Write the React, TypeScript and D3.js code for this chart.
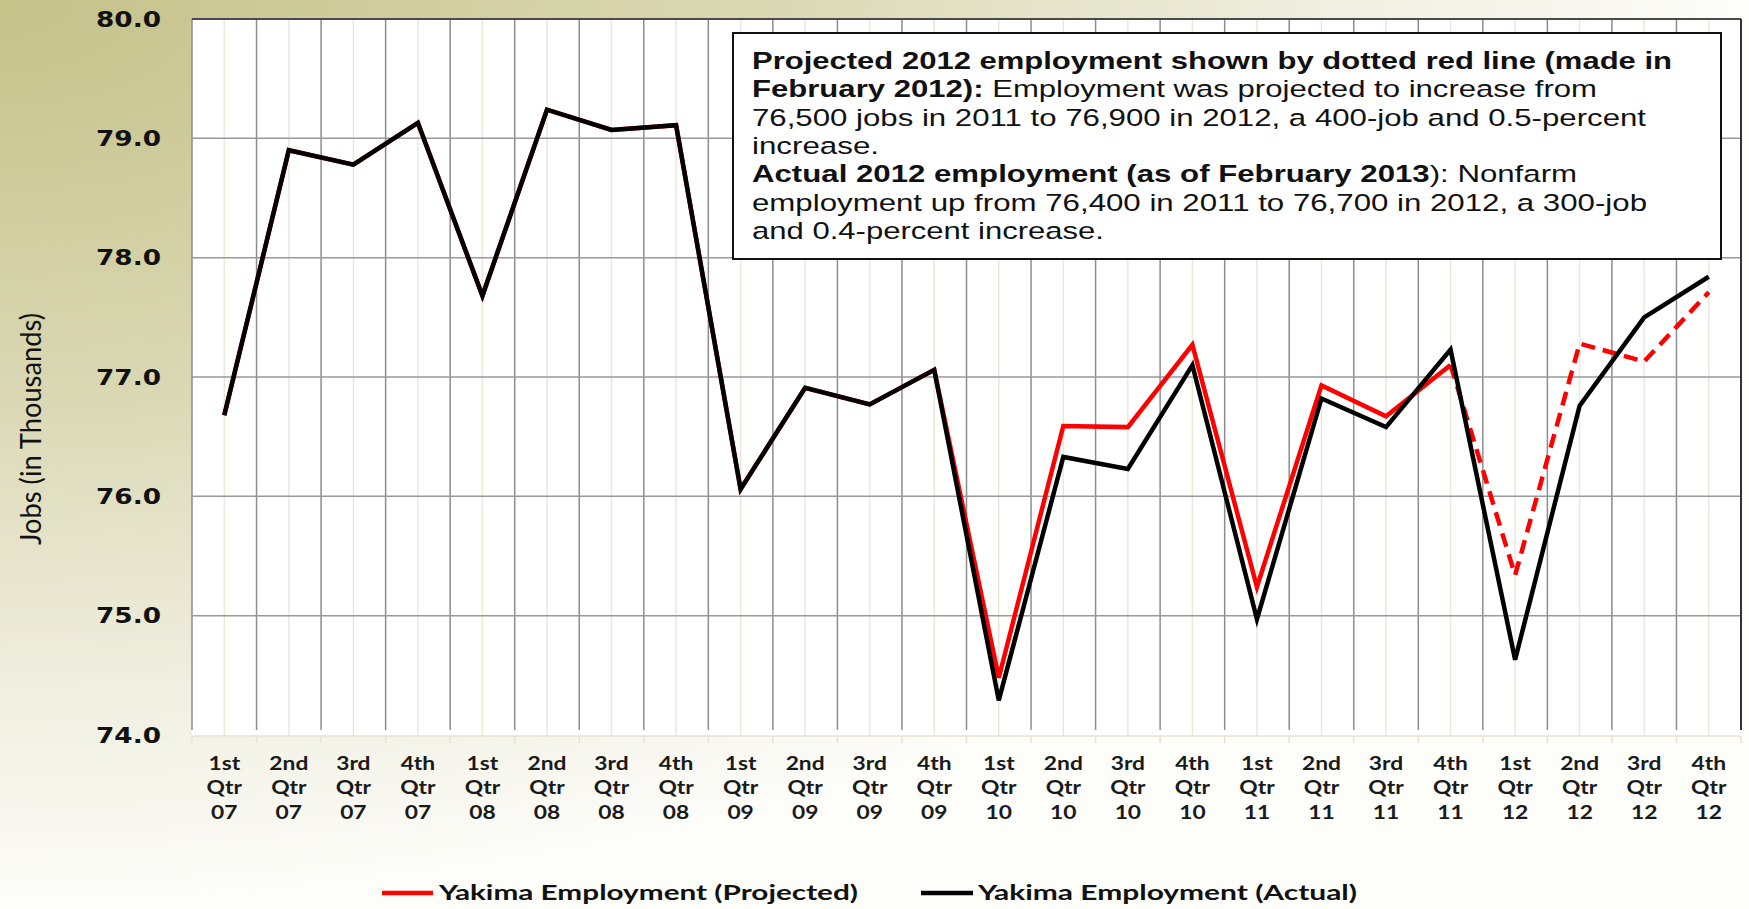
import * as d3 from "d3"
import React from "react"

// quarter / year labels along the bottom
const quarterNames = ["1st", "2nd", "3rd", "4th"]
const years = ["07", "08", "09", "10", "11", "12"]

// Yakima nonfarm employment, thousands of jobs
const actual = [
  76.68, 78.90, 78.78, 79.13,
  77.68, 79.24, 79.07, 79.11,
  76.06, 76.91, 76.77, 77.06,
  74.29, 76.33, 76.23, 77.10,
  74.97, 76.82, 76.58, 77.23,
  74.63, 76.76, 77.50, 77.84,
]
const projected = [
  76.68, 78.90, 78.78, 79.13,
  77.68, 79.24, 79.07, 79.11,
  76.06, 76.91, 76.77, 77.06,
  74.48, 76.59, 76.58, 77.27,
  75.24, 76.93, 76.67, 77.10,
  75.34, 77.28, 77.13, 77.71,
]
const yTicks = [74, 75, 76, 77, 78, 79, 80]
const legendLabels = ["Yakima Employment (Projected)", "Yakima Employment (Actual)"]
const yLabel = "Jobs (in Thousands)"

// note box text: [text, bold] runs per line
const noteLines: [string, boolean][][] = [
  [["Projected 2012 employment shown by dotted red line (made in", true]],
  [["February 2012):", true], [" Employment was projected to increase from", false]],
  [["76,500 jobs in 2011 to 76,900 in 2012, a 400-job and 0.5-percent", false]],
  [["increase.", false]],
  [["Actual 2012 employment (as of February 2013", true], ["): Nonfarm", false]],
  [["employment up from 76,400 in 2011 to 76,700 in 2012, a 300-job", false]],
  [["and 0.4-percent increase.", false]],
]
const noteWidths = [920, 845, 894, 127, 825, 895, 352]

const width = 1749
const height = 909
const left = 192
const right = 1741
const top = 19
const bottom = 735

const createChart = (el: SVGSVGElement) => {
  const svg = d3.select(el)
  svg.selectAll("*").remove()

  const labels = years.flatMap(yy => quarterNames.map(q => `${q} Qtr ${yy}`))
  const idx = d3.range(labels.length)

  const x = d3.scaleBand<number>(idx, [left, right])
  const cx = (i: number) => (x(i) as number) + x.bandwidth() / 2
  const y = d3.scaleLinear([74, 80], [bottom, top])

  // background
  const defs = svg.append("defs")
  const grad = defs.append("radialGradient").attr("id", "bg")
    .attr("cx", 0).attr("cy", 0).attr("r", 1).attr("fx", 0).attr("fy", 0)
  grad.append("stop").attr("offset", 0).attr("stop-color", "#c5c189")
  grad.append("stop").attr("offset", 0.45).attr("stop-color", "#dbd9b5")
  grad.append("stop").attr("offset", 0.75).attr("stop-color", "#efeedf")
  grad.append("stop").attr("offset", 1).attr("stop-color", "#fdfdfa")
  svg.append("rect").attr("width", width).attr("height", height).attr("fill", "url(#bg)")

  // plot area
  svg.append("rect").attr("x", left).attr("y", top)
    .attr("width", right - left).attr("height", bottom - top + 1).attr("fill", "#fff")

  // light grid through the points
  svg.append("g").selectAll("line").data(idx).join("line")
    .attr("x1", cx).attr("x2", cx).attr("y1", top).attr("y2", bottom + 1)
    .attr("stroke", "#ebe8da").attr("stroke-width", 1.5)

  // bottom base line and ticks
  svg.append("line").attr("x1", left).attr("x2", right).attr("y1", bottom + 1).attr("y2", bottom + 1)
    .attr("stroke", "#e6e3d3").attr("stroke-width", 1.5)
  svg.append("g").selectAll("line").data(d3.range(labels.length + 1)).join("line")
    .attr("x1", i => left + i * x.step()).attr("x2", i => left + i * x.step())
    .attr("y1", bottom + 1).attr("y2", bottom + 8)
    .attr("stroke", "#e6e3d3").attr("stroke-width", 1.5)

  // dark grid between quarters
  svg.append("g").selectAll("line").data(d3.range(labels.length)).join("line")
    .attr("x1", i => left + i * x.step()).attr("x2", i => left + i * x.step())
    .attr("y1", top).attr("y2", bottom - 5)
    .attr("stroke", "#8d8d8d").attr("stroke-width", 1.5)

  // horizontal grid
  svg.append("g").selectAll("line").data(yTicks.slice(1, -1)).join("line")
    .attr("x1", left).attr("x2", right).attr("y1", d => y(d)).attr("y2", d => y(d))
    .attr("stroke", "#999").attr("stroke-width", 1.5)

  svg.append("line").attr("x1", left).attr("x2", right).attr("y1", top).attr("y2", top)
    .attr("stroke", "#4a4a4a").attr("stroke-width", 2)
  svg.append("line").attr("x1", right).attr("x2", right).attr("y1", top).attr("y2", bottom - 5)
    .attr("stroke", "#333").attr("stroke-width", 2)

  // y axis
  const gy = svg.append("g").attr("transform", `translate(${left},0)`)
    .call(d3.axisLeft(y).tickValues(yTicks).tickFormat(d3.format(".1f")).tickSize(0).tickPadding(31))
  gy.select(".domain").remove()
  gy.selectAll(".tick text")
    .attr("font-family", "DejaVu Sans").attr("font-weight", "bold").attr("font-size", 22)
    .attr("fill", "#111").attr("textLength", 65).attr("lengthAdjust", "spacingAndGlyphs")

  svg.append("text")
    .attr("transform", `translate(41,429) scale(1.25,1) rotate(-90)`)
    .attr("text-anchor", "middle")
    .attr("font-family", "Lato").attr("font-size", 23).attr("fill", "#111")
    .attr("textLength", 232).attr("lengthAdjust", "spacingAndGlyphs")
    .text(yLabel)

  // x axis
  const gx = svg.append("g").attr("transform", `translate(0,${bottom + 1})`)
    .call(d3.axisBottom(x).tickSize(0).tickFormat(() => ""))
  gx.select(".domain").remove()
  gx.selectAll(".tick text").remove()
  gx.selectAll<SVGGElement, number>(".tick").each(function (d) {
    const parts = labels[d].split(" ")
    const t = d3.select(this).append("text")
      .attr("transform", "scale(1.2,1)")
      .attr("text-anchor", "middle")
      .attr("font-family", "Lato").attr("font-weight", "bold").attr("font-size", 19)
      .attr("fill", "#1a1a1a")
    parts.forEach((p, k) => t.append("tspan").attr("x", 0).attr("y", 34 + k * 24.5).text(p))
  })

  // lines
  const line = d3.line<number>().x((_, i) => cx(i)).y(d => y(d))
  const solidEnd = 19
  svg.append("path").attr("d", line(projected.slice(0, solidEnd + 1)))
    .attr("fill", "none").attr("stroke", "#ff0000").attr("stroke-width", 4.5)
  svg.append("path")
    .attr("d", d3.line<number>().x((_, i) => cx(i + solidEnd)).y(d => y(d))(projected.slice(solidEnd)))
    .attr("fill", "none").attr("stroke", "#ff0000").attr("stroke-width", 4.5)
    .attr("stroke-dasharray", "14,8")
  svg.append("path").attr("d", line(actual))
    .attr("fill", "none").attr("stroke", "#000").attr("stroke-width", 4.5)

  // note box
  svg.append("rect").attr("x", 733).attr("y", 33).attr("width", 988).attr("height", 226)
    .attr("fill", "#fff").attr("stroke", "#111").attr("stroke-width", 2)
  noteLines.forEach((runs, k) => {
    const t = svg.append("text").attr("x", 752).attr("y", 69 + k * 28.3)
      .attr("font-family", "Liberation Sans").attr("font-size", 24.5).attr("fill", "#111")
      .attr("textLength", noteWidths[k]).attr("lengthAdjust", "spacingAndGlyphs")
    runs.forEach(([s, b]) => t.append("tspan").attr("font-weight", b ? "bold" : "normal").text(s))
  })

  // legend
  const legend = [
    { label: legendLabels[0], color: "#ff0000", x0: 382, x1: 433, tx: 439, tw: 419 },
    { label: legendLabels[1], color: "#000", x0: 921, x1: 973, tx: 978, tw: 379 },
  ]
  const lg = svg.append("g")
  lg.selectAll("line").data(legend).join("line")
    .attr("x1", d => d.x0).attr("x2", d => d.x1).attr("y1", 893).attr("y2", 893)
    .attr("stroke", d => d.color).attr("stroke-width", 4.5)
  lg.selectAll("text").data(legend).join("text")
    .attr("x", d => d.tx).attr("y", 900)
    .attr("font-family", "Lato").attr("font-weight", "bold").attr("font-size", 21).attr("fill", "#111")
    .attr("textLength", d => d.tw).attr("lengthAdjust", "spacingAndGlyphs")
    .text(d => d.label)
}

const App = () => {
  const ref = React.useRef<SVGSVGElement>(null)
  React.useEffect(() => {
    if (ref.current) createChart(ref.current)
  }, [])
  return (
    <div style={{ position: "absolute", left: 0, top: 0 }}>
      <svg ref={ref} width={width} height={height} style={{ display: "block" }} />
    </div>
  )
}

export default App
